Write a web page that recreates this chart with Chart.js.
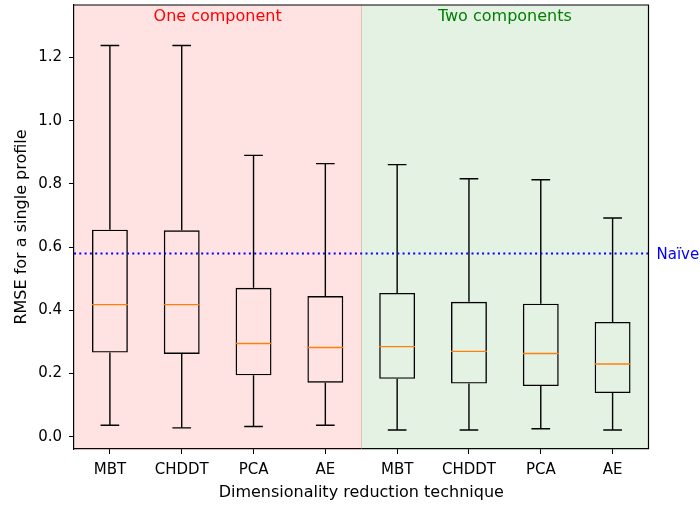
<!DOCTYPE html>
<html>
<head>
<meta charset="utf-8">
<script src="https://cdn.jsdelivr.net/npm/chart.js@4/dist/chart.umd.min.js"></script>
<style>
  html, body { margin: 0; padding: 0; background: #ffffff; }
  #wrap { width: 700px; height: 506px; }
</style>
</head>
<body>
<div id="wrap"><canvas id="c" width="700" height="506"></canvas></div>
<script>
// Box-plot summary of RMSE per dimensionality reduction technique
const categories = ['MBT', 'CHDDT', 'PCA', 'AE', 'MBT', 'CHDDT', 'PCA', 'AE'];
const whiskerLow  = [0.036, 0.028, 0.032, 0.036, 0.021, 0.021, 0.025, 0.021];
const quartile1   = [0.266, 0.262, 0.194, 0.171, 0.183, 0.168, 0.160, 0.138];
const medians     = [0.418, 0.418, 0.295, 0.282, 0.285, 0.270, 0.263, 0.230];
const quartile3   = [0.655, 0.653, 0.471, 0.445, 0.455, 0.427, 0.421, 0.363];
const whiskerHigh = [1.238, 1.238, 0.890, 0.864, 0.861, 0.816, 0.813, 0.692];
const naiveRmse = 0.58;
const yTicks = [0.0, 0.2, 0.4, 0.6, 0.8, 1.0, 1.2];
const groupLabels = ['One component', 'Two components'];

const FONT = 'DejaVu Sans';

// Shaded group backgrounds, whiskers, caps, medians, reference line and frame
const boxPlugin = {
  id: 'boxExtras',
  beforeDatasetsDraw(chart) {
    const { ctx, chartArea: a, scales: { x } } = chart;
    const mid = (x.getPixelForValue(3) + x.getPixelForValue(4)) / 2;
    ctx.save();
    ctx.fillStyle = 'rgba(255,0,0,0.11)';
    ctx.fillRect(a.left, a.top, mid - a.left, a.bottom - a.top);
    ctx.fillStyle = 'rgba(0,128,0,0.105)';
    ctx.fillRect(mid, a.top, a.right - mid, a.bottom - a.top);
    ctx.strokeStyle = 'rgba(200,150,120,0.45)';
    ctx.lineWidth = 1;
    ctx.beginPath();
    ctx.moveTo(Math.round(mid) + 0.5, a.top);
    ctx.lineTo(Math.round(mid) + 0.5, a.bottom);
    ctx.stroke();
    ctx.restore();
  },
  afterDatasetsDraw(chart) {
    const { ctx, chartArea: a, scales: { x, y } } = chart;
    const band = x.getPixelForValue(1) - x.getPixelForValue(0);
    const boxHalf = band * 0.25;
    const capHalf = band * 0.13;
    ctx.save();
    ctx.lineWidth = 1.4;
    for (let i = 0; i < categories.length; i++) {
      const cx = x.getPixelForValue(i);
      ctx.strokeStyle = '#000000';
      ctx.beginPath();
      // lower whisker and cap
      ctx.moveTo(cx, y.getPixelForValue(quartile1[i]));
      ctx.lineTo(cx, y.getPixelForValue(whiskerLow[i]));
      ctx.moveTo(cx - capHalf, y.getPixelForValue(whiskerLow[i]));
      ctx.lineTo(cx + capHalf, y.getPixelForValue(whiskerLow[i]));
      // upper whisker and cap
      ctx.moveTo(cx, y.getPixelForValue(quartile3[i]));
      ctx.lineTo(cx, y.getPixelForValue(whiskerHigh[i]));
      ctx.moveTo(cx - capHalf, y.getPixelForValue(whiskerHigh[i]));
      ctx.lineTo(cx + capHalf, y.getPixelForValue(whiskerHigh[i]));
      ctx.stroke();
      // median
      ctx.strokeStyle = '#ff7f0e';
      ctx.beginPath();
      ctx.moveTo(cx - boxHalf, y.getPixelForValue(medians[i]));
      ctx.lineTo(cx + boxHalf, y.getPixelForValue(medians[i]));
      ctx.stroke();
    }
    // naive baseline
    const ny = y.getPixelForValue(naiveRmse);
    ctx.strokeStyle = '#0000ff';
    ctx.lineWidth = 2;
    ctx.setLineDash([2, 3.3]);
    ctx.beginPath();
    ctx.moveTo(a.left, ny);
    ctx.lineTo(a.right, ny);
    ctx.stroke();
    ctx.setLineDash([]);
    ctx.restore();
  },
  afterDraw(chart) {
    const { ctx, chartArea: a, scales: { x, y } } = chart;
    const mid = (x.getPixelForValue(3) + x.getPixelForValue(4)) / 2;
    ctx.save();
    // frame top and right
    ctx.strokeStyle = '#000000';
    ctx.lineWidth = 1.2;
    ctx.beginPath();
    ctx.moveTo(a.left, a.top);
    ctx.lineTo(a.right, a.top);
    ctx.lineTo(a.right, a.bottom);
    ctx.stroke();
    // group labels
    ctx.font = '16px "' + FONT + '"';
    ctx.textAlign = 'center';
    ctx.textBaseline = 'alphabetic';
    ctx.fillStyle = '#ff0000';
    ctx.fillText(groupLabels[0], (a.left + mid) / 2, 21);
    ctx.fillStyle = '#008000';
    ctx.fillText(groupLabels[1], (mid + a.right) / 2, 21);
    // naive label
    ctx.font = '15px "' + FONT + '"';
    ctx.textAlign = 'left';
    ctx.fillStyle = '#0000ff';
    ctx.fillText('Naïve', a.right + 8, y.getPixelForValue(naiveRmse) + 5.5);
    ctx.restore();
  }
};

new Chart(document.getElementById('c'), {
  type: 'bar',
  data: {
    labels: categories,
    datasets: [{
      data: categories.map((_, i) => [quartile1[i], quartile3[i]]),
      backgroundColor: 'rgba(0,0,0,0)',
      borderColor: '#000000',
      borderWidth: 1.4,
      borderSkipped: false,
      barPercentage: 0.5,
      categoryPercentage: 1.0
    }]
  },
  options: {
    responsive: false,
    animation: false,
    events: [],
    layout: { padding: { left: 0, right: 51.5, top: 5, bottom: 0 } },
    plugins: { legend: { display: false }, tooltip: { enabled: false } },
    scales: {
      x: {
        offset: true,
        grid: { display: true, drawOnChartArea: false, drawTicks: true, tickLength: 5, color: '#000000', offset: false },
        border: { display: true, color: '#000000', width: 1.2 },
        ticks: { color: '#000000', font: { family: FONT, size: 15 }, padding: 7, autoSkip: false, maxRotation: 0 },
        title: { display: true, text: 'Dimensionality reduction technique', color: '#000000',
                 font: { family: FONT, size: 16 }, padding: { top: 0, bottom: 3.5 } },
        afterFit(scale) {
          scale.height = 57;
          scale.paddingLeft = 0; scale.paddingRight = 0;
        }
      },
      y: {
        min: -0.039,
        max: 1.366,
        afterBuildTicks(scale) { scale.ticks = yTicks.map(v => ({ value: v })); },
        grid: { display: true, drawOnChartArea: false, drawTicks: true, tickLength: 5, color: '#000000' },
        border: { display: true, color: '#000000', width: 1.2 },
        ticks: { color: '#000000', font: { family: FONT, size: 15 }, padding: 7,
                 callback: v => Number(v).toFixed(1) },
        title: { display: true, text: 'RMSE for a single profile', color: '#000000',
                 font: { family: FONT, size: 16 }, padding: { top: 12.5, bottom: 0 } },
        afterFit(scale) {
          scale.width = 74;
          scale.paddingTop = 0; scale.paddingBottom = 0;
        }
      }
    }
  },
  plugins: [boxPlugin]
});
</script>
</body>
</html>
